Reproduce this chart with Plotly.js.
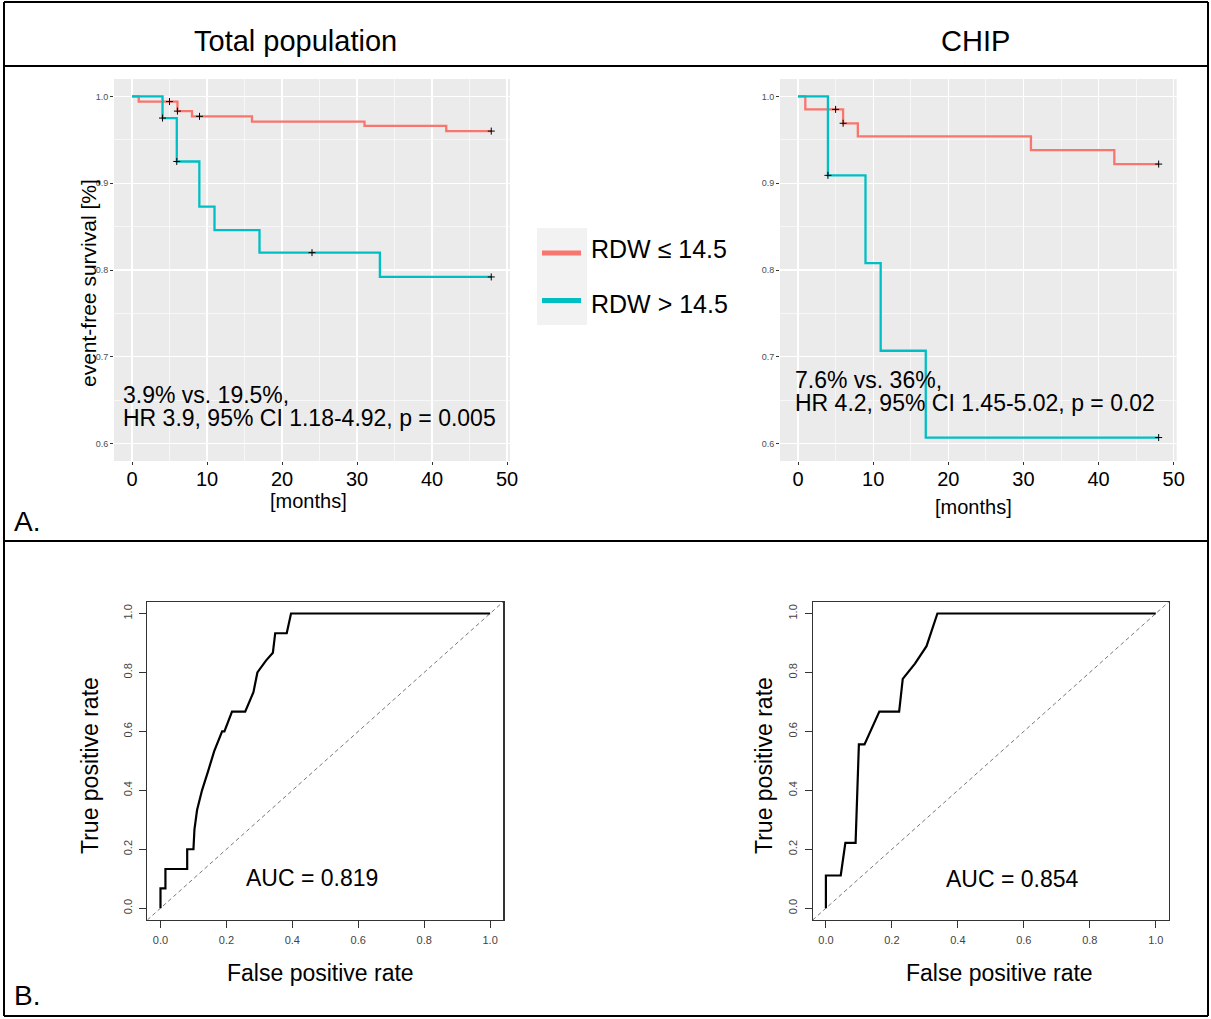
<!DOCTYPE html>
<html>
<head>
<meta charset="utf-8">
<script src="https://cdn.plot.ly/plotly-3.0.1.min.js"></script>
<style>
html,body{margin:0;padding:0;background:#fff;}
#chart{width:1211px;height:1019px;}
</style>
</head>
<body>
<div id="chart"></div>
<script>
// ---------------- DATA ----------------
// Kaplan-Meier, total population
const totLowTime   = [0, 0.9, 6.06, 8.0, 16.0, 31.0, 41.9, 47.9];
const totLowSurv   = [1.0, 0.994, 0.983, 0.977, 0.971, 0.966, 0.960, 0.960];
const totLowCensT  = [5.0, 6.06, 9.0, 47.9];
const totLowCensS  = [0.994, 0.983, 0.977, 0.960];
const totHighTime  = [0, 4.07, 5.97, 8.98, 11.0, 17.0, 33.05, 47.9];
const totHighSurv  = [1.0, 0.975, 0.925, 0.873, 0.846, 0.820, 0.792, 0.792];
const totHighCensT = [4.07, 5.97, 24.0, 47.9];
const totHighCensS = [0.975, 0.925, 0.820, 0.792];
// Kaplan-Meier, CHIP
const chipLowTime   = [0, 0.97, 6.0, 7.96, 31.0, 42.1, 48.0];
const chipLowSurv   = [1.0, 0.985, 0.969, 0.954, 0.938, 0.922, 0.922];
const chipLowCensT  = [5.0, 6.0, 48.0];
const chipLowCensS  = [0.985, 0.969, 0.922];
const chipHighTime  = [0, 3.98, 8.98, 11.0, 17.0, 48.0];
const chipHighSurv  = [1.0, 0.909, 0.808, 0.707, 0.607, 0.607];
const chipHighCensT = [3.98, 48.0];
const chipHighCensS = [0.909, 0.607];
// ROC curves
const rocTotFpr = [0, 0, 0.015, 0.015, 0.081, 0.081, 0.100, 0.103, 0.111, 0.126, 0.145, 0.163, 0.187, 0.194, 0.217, 0.257, 0.282, 0.294, 0.320, 0.341, 0.348, 0.383, 0.396, 1.0];
const rocTotTpr = [0, 0.067, 0.067, 0.133, 0.133, 0.200, 0.200, 0.267, 0.333, 0.400, 0.467, 0.533, 0.600, 0.600, 0.667, 0.667, 0.733, 0.800, 0.840, 0.867, 0.933, 0.933, 1.0, 1.0];
const rocChipFpr = [0, 0, 0.045, 0.059, 0.090, 0.100, 0.117, 0.162, 0.222, 0.233, 0.270, 0.305, 0.338, 1.0];
const rocChipTpr = [0, 0.111, 0.111, 0.222, 0.222, 0.556, 0.556, 0.667, 0.667, 0.778, 0.830, 0.889, 1.0, 1.0];
// labels
const panelTitles = ["Total population", "CHIP"];
const groupLabels = ["RDW ≤ 14.5", "RDW > 14.5"];
const statTotal = ["3.9% vs. 19.5%,", "HR 3.9, 95% CI 1.18-4.92, p = 0.005"];
const statChip  = ["7.6% vs. 36%,", "HR 4.2, 95% CI 1.45-5.02, p = 0.02"];
const aucLabels = ["AUC = 0.819", "AUC = 0.854"];
const kmXTicks = [0, 10, 20, 30, 40, 50];
const kmYTicks = [0.6, 0.7, 0.8, 0.9, 1.0];
const rocTicks = [0, 0.2, 0.4, 0.6, 0.8, 1.0];
const kmXRange = [-2.4, 50.4];
const kmYRange = [0.58, 1.02];
const rocRange = [-0.04, 1.04];

// ---------------- LAYOUT HELPERS ----------------
const W = 1211, H = 1019;
const px = x => x / W;
const py = y => 1 - y / H;
const FONT = "Liberation Sans, Arial, Helvetica, sans-serif";
const RED = "#F8766D", TEAL = "#00BFC4";

function stepTrace(x, y, color, xa, ya) {
  return {x: x, y: y, type: "scatter", mode: "lines", line: {shape: "hv", color: color, width: 2.3},
          xaxis: xa, yaxis: ya, showlegend: false, hoverinfo: "skip"};
}
function censTrace(x, y, xa, ya) {
  return {x: x, y: y, type: "scatter", mode: "markers",
          marker: {symbol: "cross-thin", size: 5, color: "#000", line: {width: 1, color: "#000"}},
          xaxis: xa, yaxis: ya, showlegend: false, hoverinfo: "skip"};
}
function rocTrace(x, y, xa, ya) {
  return {x: x, y: y, type: "scatter", mode: "lines", line: {color: "#000", width: 2.2},
          xaxis: xa, yaxis: ya, showlegend: false, hoverinfo: "skip"};
}
function diagTrace(xa, ya) {
  return {x: rocRange, y: rocRange, type: "scatter", mode: "lines",
          line: {color: "#777", width: 1, dash: "4px,3px"},
          xaxis: xa, yaxis: ya, showlegend: false, hoverinfo: "skip"};
}

const data = [
  stepTrace(totLowTime, totLowSurv, RED, "x", "y"),
  stepTrace(totHighTime, totHighSurv, TEAL, "x", "y"),
  censTrace(totLowCensT, totLowCensS, "x", "y"),
  censTrace(totHighCensT, totHighCensS, "x", "y"),
  stepTrace(chipLowTime, chipLowSurv, RED, "x2", "y2"),
  stepTrace(chipHighTime, chipHighSurv, TEAL, "x2", "y2"),
  censTrace(chipLowCensT, chipLowCensS, "x2", "y2"),
  censTrace(chipHighCensT, chipHighCensS, "x2", "y2"),
  diagTrace("x3", "y3"),
  rocTrace(rocTotFpr, rocTotTpr, "x3", "y3"),
  diagTrace("x4", "y4"),
  rocTrace(rocChipFpr, rocChipTpr, "x4", "y4")
];

function kmX(domain, anchor) {
  return {domain: domain, anchor: anchor, range: kmXRange, tickvals: kmXTicks,
          ticks: "outside", ticklen: 3, tickwidth: 1, tickcolor: "#333",
          ticklabelstandoff: -3,
          tickfont: {family: FONT, size: 20, color: "#000"},
          showgrid: true, gridcolor: "#FFFFFF", gridwidth: 1.3,
          minor: {dtick: 5, tick0: 0, showgrid: true, gridcolor: "#FFFFFF", gridwidth: 0.6},
          zeroline: false, showline: false, fixedrange: true};
}
function kmY(domain, anchor) {
  return {domain: domain, anchor: anchor, range: kmYRange, tickvals: kmYTicks, tickformat: ".1f",
          ticks: "outside", ticklen: 3, tickwidth: 1, tickcolor: "#333",
          tickfont: {family: FONT, size: 9, color: "#4D4D4D"},
          showgrid: true, gridcolor: "#FFFFFF", gridwidth: 1.3,
          minor: {dtick: 0.05, tick0: 0.6, showgrid: true, gridcolor: "#FFFFFF", gridwidth: 0.6},
          zeroline: false, showline: false, fixedrange: true};
}
function rocAx(domain, anchor, isY) {
  return {domain: domain, anchor: anchor, range: rocRange, tickvals: rocTicks, tickformat: ".1f",
          ticks: "outside", ticklen: 7, tickwidth: 1, tickcolor: "#333",
          ticklabelstandoff: 3,
          tickfont: {family: FONT, size: 11, color: "#444"},
          tickangle: isY ? -90 : 0,
          showgrid: false, zeroline: false, showline: true, mirror: true,
          linecolor: "#333", linewidth: 1.2, fixedrange: true};
}

const kmYDom = [py(461), py(79)];
const rocYDom = [py(920), py(601.7)];

function txt(text, x, y, size, opts) {
  return Object.assign({text: text, x: px(x), y: py(y), xref: "paper", yref: "paper",
    showarrow: false, font: {family: FONT, size: size, color: "#000"},
    xanchor: "center", yanchor: "middle"}, opts || {});
}

const annotations = [
  txt(panelTitles[0], 295, 41, 29),
  txt(panelTitles[1], 976, 41, 29),
  txt("A.", 12, 521, 28, {xanchor: "left"}),
  txt("B.", 12, 995, 28, {xanchor: "left"}),
  txt("event-free survival [%]", 88, 283, 21, {textangle: -90}),
  txt("[months]", 308, 501, 20),
  txt("[months]", 973, 507, 20),
  txt(statTotal[0], 121, 395, 23, {xanchor: "left"}),
  txt(statTotal[1], 121, 418, 23, {xanchor: "left"}),
  txt(statChip[0], 793, 380, 23, {xanchor: "left"}),
  txt(statChip[1], 793, 403, 23, {xanchor: "left"}),
  txt(groupLabels[0], 589, 249, 25, {xanchor: "left"}),
  txt(groupLabels[1], 589, 304, 25, {xanchor: "left"}),
  txt("True positive rate", 90, 766, 23, {textangle: -90}),
  txt("True positive rate", 764, 766, 23, {textangle: -90}),
  txt("False positive rate", 320, 973, 23),
  txt("False positive rate", 1000, 973, 23),
  txt(aucLabels[0], 312, 878, 23),
  txt(aucLabels[1], 1012, 879, 23)
];

function frameLine(x0, y0, x1, y1) {
  return {type: "line", xref: "paper", yref: "paper", x0: px(x0), y0: py(y0), x1: px(x1), y1: py(y1),
          line: {color: "#000", width: 2}, layer: "above"};
}
const shapes = [
  // grey ggplot panels
  {type: "rect", xref: "x domain", yref: "y domain", x0: 0, x1: 1, y0: 0, y1: 1,
   fillcolor: "#EBEBEB", line: {width: 0}, layer: "below"},
  {type: "rect", xref: "x2 domain", yref: "y2 domain", x0: 0, x1: 1, y0: 0, y1: 1,
   fillcolor: "#EBEBEB", line: {width: 0}, layer: "below"},
  // legend keys
  {type: "rect", xref: "paper", yref: "paper", x0: px(537), x1: px(587), y0: py(325), y1: py(228),
   fillcolor: "#F2F2F2", line: {width: 0}, layer: "below"},
  {type: "line", xref: "paper", yref: "paper", x0: px(542), x1: px(581), y0: py(253), y1: py(253),
   line: {color: RED, width: 5}},
  {type: "line", xref: "paper", yref: "paper", x0: px(542), x1: px(581), y0: py(300.5), y1: py(300.5),
   line: {color: TEAL, width: 5}},
  // frame
  frameLine(4, 2, 1208, 2),
  frameLine(4, 1016, 1208, 1016),
  frameLine(4, 2, 4, 1016),
  frameLine(1208, 2, 1208, 1016),
  frameLine(4, 66, 1208, 66),
  frameLine(4, 541, 1208, 541)
];

const layout = {
  width: W, height: H,
  margin: {l: 0, r: 0, t: 0, b: 0, pad: 0},
  paper_bgcolor: "#FFFFFF",
  plot_bgcolor: "rgba(0,0,0,0)",
  showlegend: false,
  font: {family: FONT, color: "#000"},
  xaxis: kmX([px(114), px(510)], "y"),
  yaxis: kmY(kmYDom, "x"),
  xaxis2: kmX([px(780), px(1176.7)], "y2"),
  yaxis2: kmY(kmYDom, "x2"),
  xaxis3: rocAx([px(147.3), px(503.3)], "y3", false),
  yaxis3: rocAx(rocYDom, "x3", true),
  xaxis4: rocAx([px(812.7), px(1169)], "y4", false),
  yaxis4: rocAx(rocYDom, "x4", true),
  annotations: annotations,
  shapes: shapes
};

Plotly.newPlot("chart", data, layout, {displayModeBar: false, staticPlot: true});
</script>
</body>
</html>
